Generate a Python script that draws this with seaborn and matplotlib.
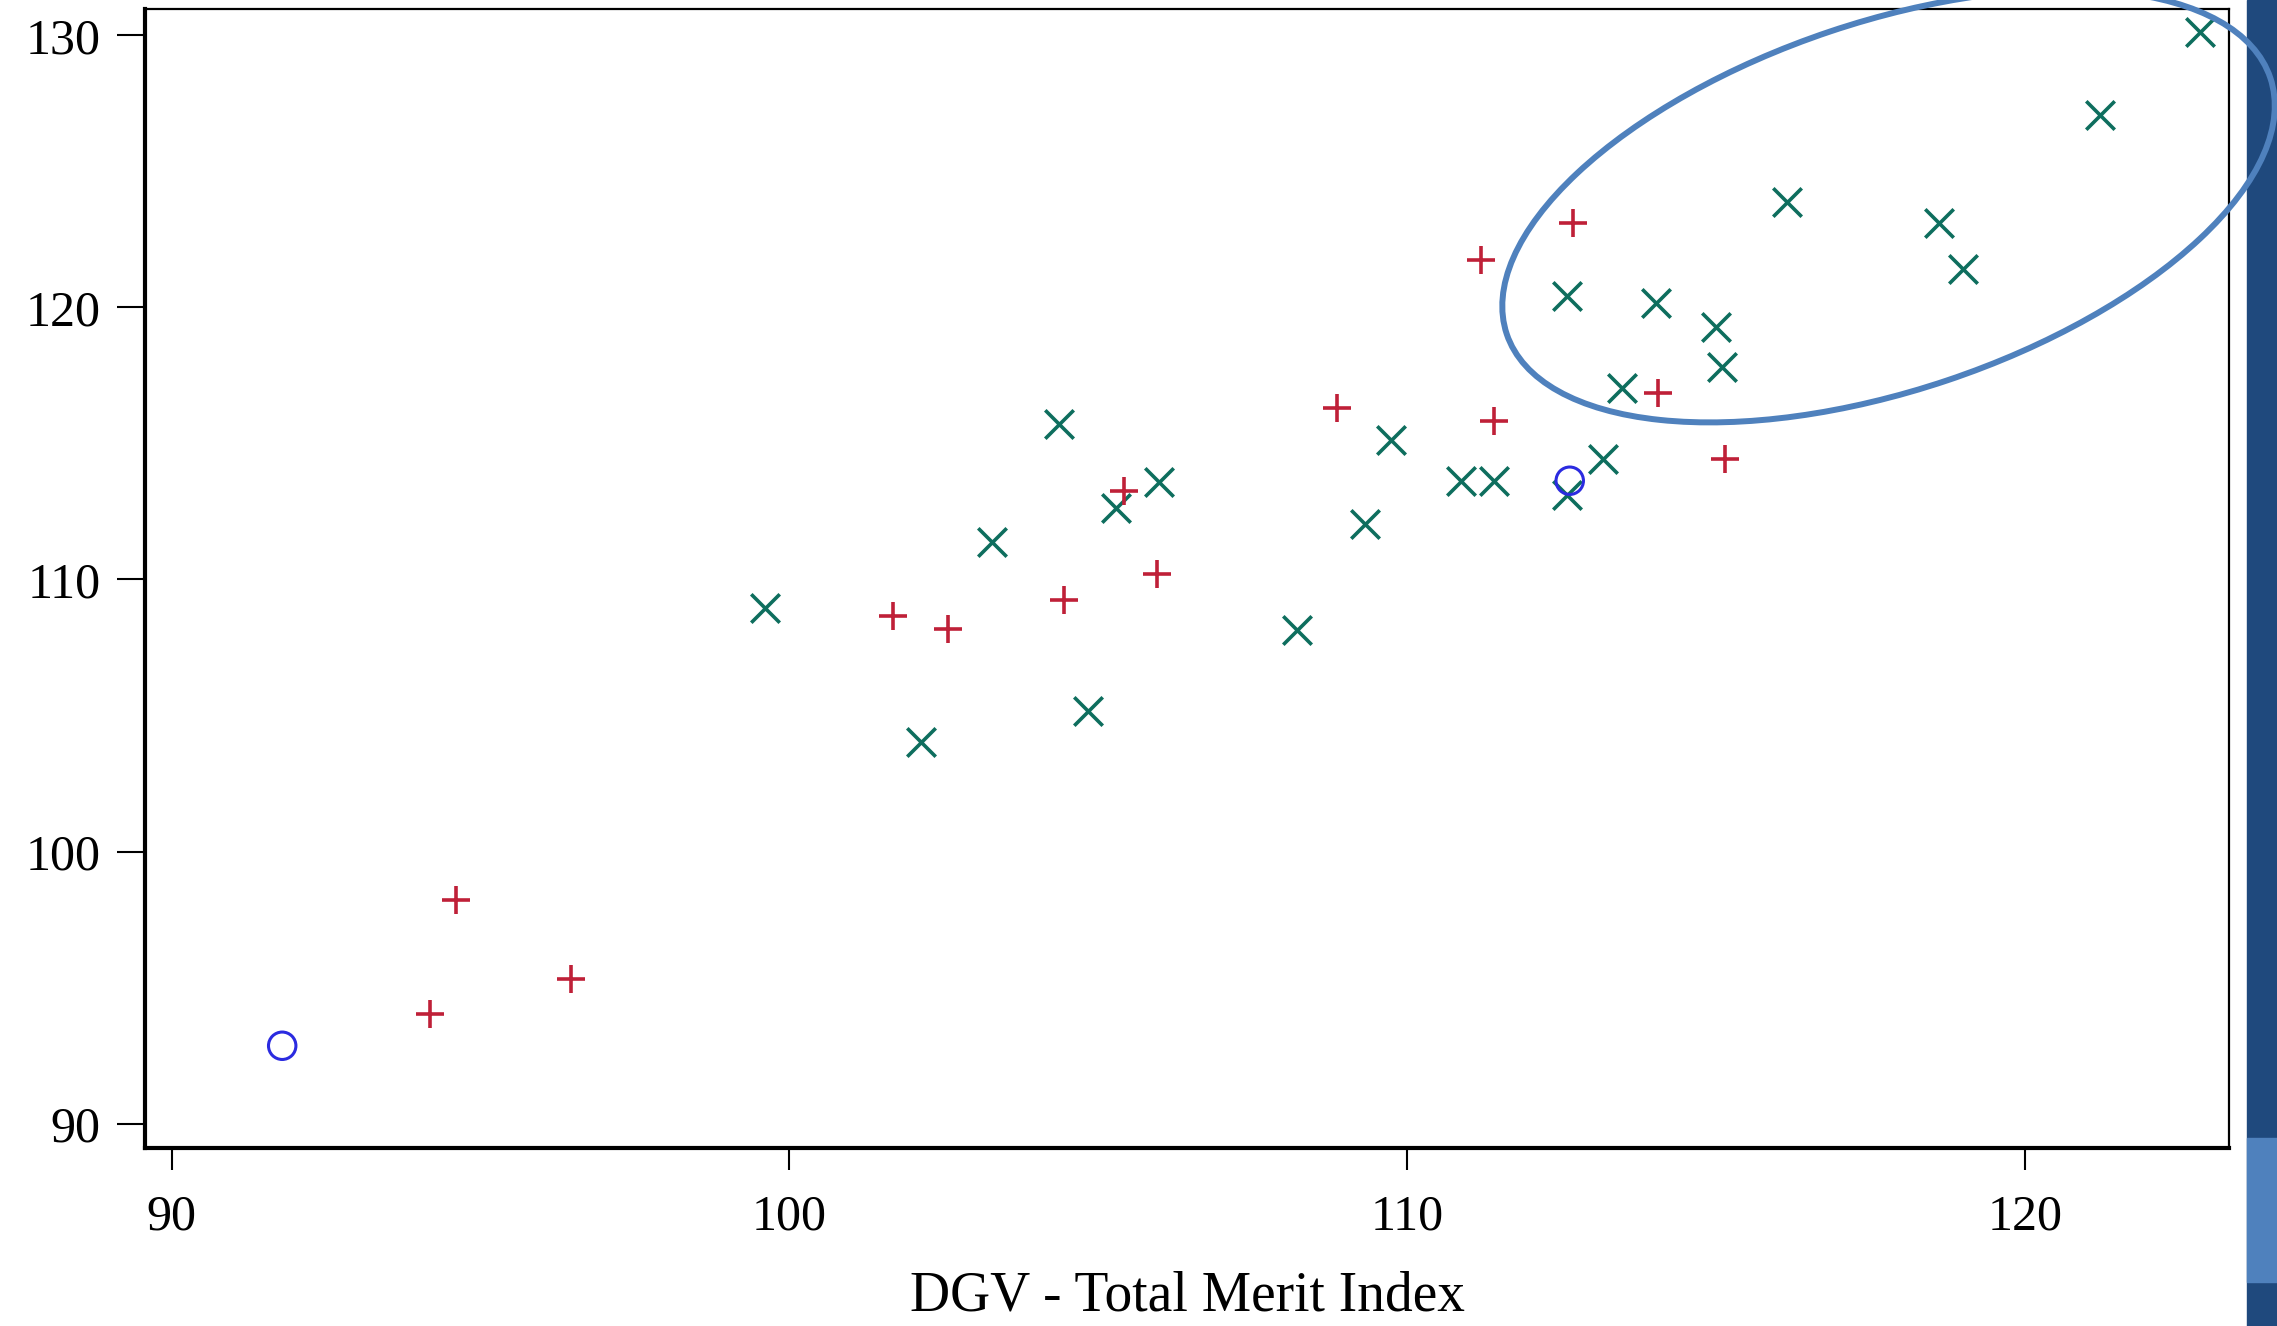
import numpy as np
import pandas as pd
import seaborn as sns
import matplotlib.pyplot as plt
from matplotlib.patches import Ellipse, Rectangle
from matplotlib.transforms import ScaledTranslation

# blue open circles
circle_x = [91.79, 112.63]
circle_y = [92.86, 113.63]

# red plus
plus_x = [94.18, 94.61, 96.46, 101.68, 102.57, 104.44, 105.42, 105.95,
          108.87, 111.19, 111.41, 112.68, 114.06, 115.15]
plus_y = [94.04, 98.20, 95.32, 108.67, 108.19, 109.25, 113.26, 110.22,
          116.30, 121.75, 115.82, 123.11, 116.84, 114.44]

# green crosses
cross_x = [99.61, 102.13, 103.28, 104.36, 104.83, 105.28, 105.98, 108.21,
           109.32, 109.74, 110.87, 111.41, 112.58, 112.58, 113.17, 113.48,
           114.02, 115.00, 115.10, 116.15, 118.60, 119.00, 121.21, 122.83]
cross_y = [108.94, 104.03, 111.39, 115.71, 105.15, 112.62, 113.58, 108.13,
           112.03, 115.13, 113.63, 113.63, 113.10, 120.41, 114.44, 117.05,
           120.15, 119.29, 117.80, 123.89, 123.11, 121.43, 127.09, 130.13]

x_ticks = [90, 100, 110, 120]
y_ticks = [90, 100, 110, 120, 130]
x_label = "DGV - Total Merit Index"

sns.set_style("ticks")
plt.rcParams['font.family'] = ['Liberation Serif', 'DejaVu Serif']

fig = plt.figure(figsize=(22.77, 13.26), dpi=100)
ax = fig.add_axes([0.0637, 0.1342, 0.9152, 0.8590])

sns.scatterplot(x=cross_x, y=cross_y, marker='x', s=420, color='#0E6E5E',
                linewidth=2.6, ax=ax)
sns.scatterplot(x=plus_x, y=plus_y, marker='+', s=420, color='#BF2038',
                linewidth=2.6, ax=ax)
sns.scatterplot(x=circle_x, y=circle_y, marker='o', s=390, color='#2B2BE0',
                facecolors='none', edgecolor='#2B2BE0', linewidth=2.2, ax=ax)

ax.set_xlim(89.57, 123.30)
ax.set_ylim(89.10, 130.97)
ax.set_xticks(x_ticks)
ax.set_yticks(y_ticks)
ax.set_xlabel(x_label, fontsize=40, labelpad=22, color='black')
ax.set_ylabel('')

ax.tick_params(axis='x', length=16, width=1.5, pad=17, labelsize=36,
               color='black', labelcolor='black')
ax.tick_params(axis='y', length=20, width=1.5, pad=12, labelsize=36,
               color='black', labelcolor='black')
for side in ['left', 'bottom']:
    ax.spines[side].set_linewidth(3.0)
    ax.spines[side].set_color('black')
for side in ['top', 'right']:
    ax.spines[side].set_linewidth(1.6)
    ax.spines[side].set_color('black')

# highlight ellipse round the top group (size in pixels, centre in data)
ell = Ellipse((0, 0), width=2 * 402.7, height=2 * 184, angle=18.55,
              fill=False, edgecolor='#4F81BD', linewidth=4.3,
              transform=ScaledTranslation(117.79, 123.73, ax.transData),
              clip_on=False, zorder=5)
ax.add_patch(ell)

# slide side bar
fig.add_artist(Rectangle((0.98682, 0), 0.01318, 1, transform=fig.transFigure,
                         color='#1F497D', zorder=-1))
fig.add_artist(Rectangle((0.98682, 0.0332), 0.01318, 0.1086,
                         transform=fig.transFigure, color='#4F81BD', zorder=-1))

fig.savefig('out.png', dpi=100)
